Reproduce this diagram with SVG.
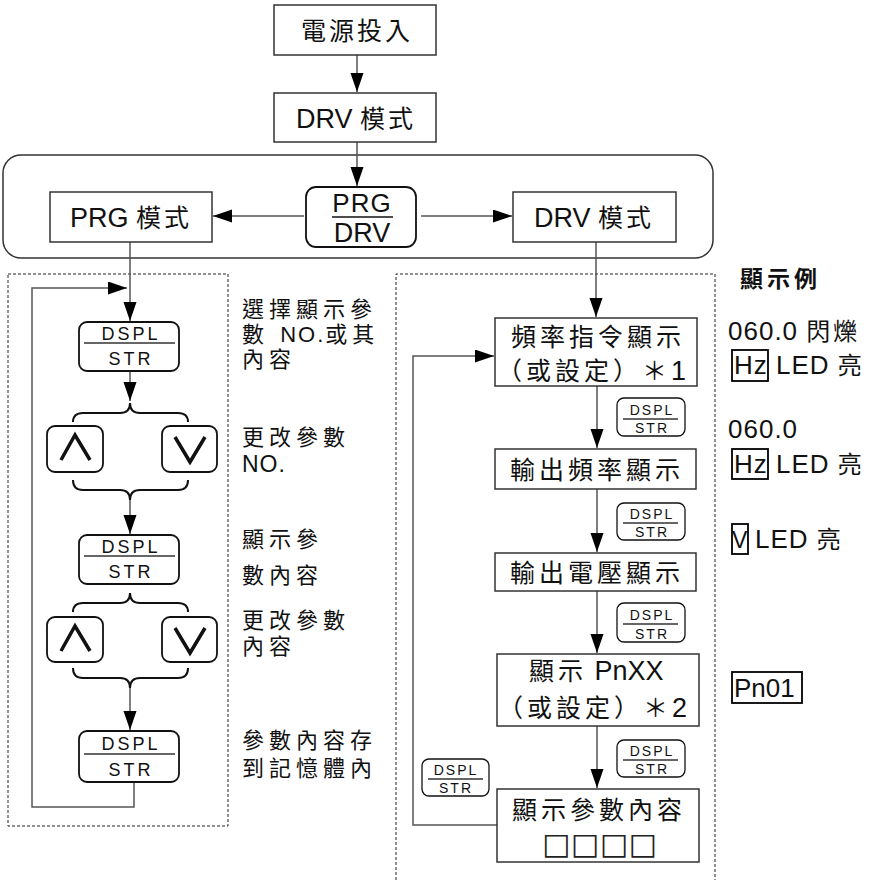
<svg xmlns="http://www.w3.org/2000/svg" width="872" height="880" viewBox="0 0 872 880">
<defs>
<style>
.t{font-family:"Liberation Sans","Noto Sans CJK TC",sans-serif;fill:#111}
.big{font-size:27px}
.C{font-size:25px;letter-spacing:3px}
.C4{font-size:25px;letter-spacing:4px}
.box{fill:#fff;stroke:#333;stroke-width:1.5}
.kb{fill:#fff;stroke:#111;stroke-width:1.8}
.dv{stroke:#333;stroke-width:1.3}
.k{font-size:18px;letter-spacing:3px;text-anchor:middle}
.ks{font-size:14px;letter-spacing:2px;text-anchor:middle}
.side{font-size:22px;letter-spacing:5px}
.sl{font-size:23px;letter-spacing:1px}
.ex{font-size:26px;letter-spacing:1px}
.exc{font-size:24px;letter-spacing:3px}
.c{stroke:#555;stroke-width:1.5;fill:none}
.br{stroke:#111;stroke-width:2;fill:none}
.chev{stroke:#111;stroke-width:3.5;fill:none;stroke-linejoin:miter}
.dash{fill:none;stroke:#222;stroke-width:1;stroke-dasharray:3 2}
.mid{text-anchor:middle}
</style>
<marker id="ah" markerUnits="userSpaceOnUse" markerWidth="20" markerHeight="14" refX="19" refY="6.5" orient="auto">
<path d="M0,0 L19,6.5 L0,13 z" fill="#000"/>
</marker>
</defs>
<rect x="0" y="0" width="872" height="880" fill="#fff"/>

<!-- panels -->
<rect id="mode-frame" x="3" y="155" width="710" height="103" rx="18" fill="none" stroke="#333" stroke-width="1.5"/>
<rect id="prg-panel" class="dash" x="8" y="274" width="220" height="552"/>
<path id="drv-panel" class="dash" d="M396,880 L396,274 L715,274 L715,880"/>

<!-- connectors -->
<g id="connectors">
<path class="c" d="M357,55 V92" marker-end="url(#ah)"/>
<path class="c" d="M357,142 V186" marker-end="url(#ah)"/>
<path class="c" d="M304,216 H213" marker-end="url(#ah)"/>
<path class="c" d="M421,216 H512" marker-end="url(#ah)"/>
<path class="c" d="M130,242 V321" marker-end="url(#ah)"/>
<path class="c" d="M130,371 V401" marker-end="url(#ah)"/>
<path class="c" d="M130,500 V534" marker-end="url(#ah)"/>
<path class="c" d="M130,688 V730" marker-end="url(#ah)"/>
<path class="c" d="M134,782 V807 H32 V288 H127" marker-end="url(#ah)"/>
<path class="c" d="M596,242 V317" marker-end="url(#ah)"/>
<path class="c" d="M597,386 V448" marker-end="url(#ah)"/>
<path class="c" d="M597,489 V552" marker-end="url(#ah)"/>
<path class="c" d="M597,591 V653" marker-end="url(#ah)"/>
<path class="c" d="M597,726 V788" marker-end="url(#ah)"/>
<path class="c" d="M497,825 H413 V356 H494" marker-end="url(#ah)"/>
<path class="br" d="M73,422 Q73,413 83,413 L120,413 Q130,413 130,403 Q130,413 140,413 L178,413 Q188,413 188,422"/>
<path class="br" d="M73,480 Q73,490 83,490 L120,490 Q130,490 130,500 Q130,490 140,490 L178,490 Q188,490 188,480"/>
<path class="br" d="M73,612 Q73,603 83,603 L120,603 Q130,603 130,593 Q130,603 140,603 L178,603 Q188,603 188,612"/>
<path class="br" d="M73,668 Q73,678 83,678 L120,678 Q130,678 130,688 Q130,678 140,678 L178,678 Q188,678 188,668"/>
</g>

<!-- top nodes -->
<g id="power-on">
<rect class="box" x="274" y="5" width="162" height="50"/>
<text class="t C mid" x="357" y="40">電源投入</text>
</g>
<g id="drv-mode-top">
<rect class="box" x="274" y="93" width="162" height="49"/>
<text class="t big mid" x="356" y="128">DRV <tspan class="C">模式</tspan></text>
</g>
<g id="prg-mode">
<rect class="box" x="50" y="192" width="162" height="50"/>
<text class="t big mid" x="131" y="227">PRG <tspan class="C">模式</tspan></text>
</g>
<g id="prg-drv-key">
<rect class="kb" x="306" y="187" width="110" height="60" rx="10"/>
<text class="t mid" x="362" y="212" style="font-size:26px;letter-spacing:1px">PRG</text>
<line x1="332" y1="217" x2="393" y2="217" stroke="#111" stroke-width="1.5"/>
<text class="t mid" x="362" y="242" style="font-size:27px">DRV</text>
</g>
<g id="drv-mode">
<rect class="box" x="513" y="192" width="163" height="50"/>
<text class="t big mid" x="594" y="227">DRV <tspan class="C">模式</tspan></text>
</g>

<!-- PRG side -->
<g id="key-dspl-1">
<rect class="kb" x="79" y="322" width="100" height="49" rx="8"/>
<text class="t k" x="131" y="340">DSPL</text>
<line class="dv" x1="84" y1="343" x2="175" y2="343"/>
<text class="t k" x="131" y="365">STR</text>
</g>
<g id="key-up-1">
<rect class="kb" x="47" y="426" width="56" height="46" rx="8"/>
<path class="chev" d="M61,460 L75,435 L90,460"/>
</g>
<g id="key-down-1">
<rect class="kb" x="162" y="426" width="55" height="46" rx="8"/>
<path class="chev" d="M175,437 L190,462 L205,437"/>
</g>
<g id="key-dspl-2">
<rect class="kb" x="79" y="535" width="100" height="49" rx="8"/>
<text class="t k" x="131" y="553">DSPL</text>
<line class="dv" x1="84" y1="556" x2="175" y2="556"/>
<text class="t k" x="131" y="578">STR</text>
</g>
<g id="key-up-2">
<rect class="kb" x="47" y="617" width="56" height="45" rx="8"/>
<path class="chev" d="M61,651 L75,626 L90,651"/>
</g>
<g id="key-down-2">
<rect class="kb" x="162" y="617" width="55" height="45" rx="8"/>
<path class="chev" d="M175,628 L190,653 L205,628"/>
</g>
<g id="key-dspl-3">
<rect class="kb" x="79" y="731" width="100" height="51" rx="8"/>
<text class="t k" x="131" y="750">DSPL</text>
<line class="dv" x1="84" y1="754" x2="175" y2="754"/>
<text class="t k" x="131" y="776">STR</text>
</g>
<g id="prg-notes">
<text class="t side" x="242" y="317">選擇顯示參</text>
<text class="t side" x="242" y="342">數 <tspan style="font-size:22px;letter-spacing:2px">NO.</tspan>或其</text>
<text class="t side" x="242" y="367">內容</text>
<text class="t side" x="242" y="445">更改參數</text>
<text class="t sl" x="242" y="472">NO.</text>
<text class="t side" x="242" y="547">顯示參</text>
<text class="t side" x="242" y="583">數內容</text>
<text class="t side" x="242" y="628">更改參數</text>
<text class="t side" x="242" y="654">內容</text>
<text class="t side" x="242" y="748">參數內容存</text>
<text class="t side" x="242" y="776">到記憶體內</text>
</g>

<!-- DRV side -->
<g id="freq-cmd">
<rect class="box" x="495" y="318" width="202" height="68"/>
<text class="t C4 mid" x="598" y="346">頻率指令顯示</text>
<text class="t C4" x="497" y="380">（或設定）＊<tspan class="big" style="letter-spacing:0">1</tspan></text>
</g>
<g id="out-freq">
<rect class="box" x="495" y="449" width="201" height="40"/>
<text class="t C4 mid" x="597" y="479">輸出頻率顯示</text>
</g>
<g id="out-volt">
<rect class="box" x="495" y="553" width="201" height="38"/>
<text class="t C4 mid" x="597" y="582">輸出電壓顯示</text>
</g>
<g id="pnxx">
<rect class="box" x="497" y="654" width="202" height="72"/>
<text class="t C4" x="529" y="680">顯示<tspan class="big" style="letter-spacing:0"> PnXX</tspan></text>
<text class="t C4" x="498" y="717">（或設定）＊<tspan class="big" style="letter-spacing:0">2</tspan></text>
</g>
<g id="param-content">
<rect class="box" x="497" y="789" width="202" height="73"/>
<text class="t C4 mid" x="599" y="819">顯示參數內容</text>
<text x="542" y="854" style="font-family:'DejaVu Sans',sans-serif;font-size:30px;letter-spacing:0.5px;fill:#222">□□□□</text>
</g>
<g id="lbl-1">
<rect class="kb" x="617" y="398" width="68" height="38" rx="7" style="stroke-width:1.3"/>
<text class="t ks" x="652" y="415">DSPL</text>
<line class="dv" x1="623" y1="419" x2="678" y2="419"/>
<text class="t ks" x="652" y="433">STR</text>
</g>
<g id="lbl-2">
<rect class="kb" x="617" y="503" width="68" height="37" rx="7" style="stroke-width:1.3"/>
<text class="t ks" x="652" y="519">DSPL</text>
<line class="dv" x1="623" y1="523" x2="678" y2="523"/>
<text class="t ks" x="652" y="537">STR</text>
</g>
<g id="lbl-3">
<rect class="kb" x="617" y="603" width="68" height="39" rx="7" style="stroke-width:1.3"/>
<text class="t ks" x="652" y="620">DSPL</text>
<line class="dv" x1="623" y1="624" x2="678" y2="624"/>
<text class="t ks" x="652" y="639">STR</text>
</g>
<g id="lbl-4">
<rect class="kb" x="617" y="740" width="68" height="37" rx="7" style="stroke-width:1.3"/>
<text class="t ks" x="652" y="756">DSPL</text>
<line class="dv" x1="623" y1="760" x2="678" y2="760"/>
<text class="t ks" x="652" y="774">STR</text>
</g>
<g id="lbl-5">
<rect class="kb" x="422" y="759" width="67" height="37" rx="7" style="stroke-width:1.3"/>
<text class="t ks" x="456" y="775">DSPL</text>
<line class="dv" x1="428" y1="779" x2="483" y2="779"/>
<text class="t ks" x="456" y="793">STR</text>
</g>

<!-- display examples -->
<g id="examples">
<text class="t" x="740" y="287" style="font-size:23px;font-weight:bold;letter-spacing:4px">顯示例</text>
<text class="t ex" x="728" y="340">060.0 <tspan class="exc">閃爍</tspan></text>
<rect x="732" y="350" width="36" height="31" fill="none" stroke="#000" stroke-width="1.8"/>
<text class="t ex" x="734" y="374">Hz LED <tspan class="exc">亮</tspan></text>
<text class="t ex" x="728" y="438">060.0</text>
<rect x="732" y="449" width="36" height="30" fill="none" stroke="#000" stroke-width="1.8"/>
<text class="t ex" x="734" y="473">Hz LED <tspan class="exc">亮</tspan></text>
<rect x="732" y="524" width="16" height="30" fill="none" stroke="#000" stroke-width="1.8"/>
<text class="t" x="732" y="548" style="font-size:23px">V</text>
<text class="t ex" x="755" y="548">LED <tspan class="exc">亮</tspan></text>
<rect x="732" y="672" width="70" height="31" fill="none" stroke="#000" stroke-width="1.8"/>
<text class="t ex" x="734" y="697" style="letter-spacing:0">Pn01</text>
</g>
</svg>
